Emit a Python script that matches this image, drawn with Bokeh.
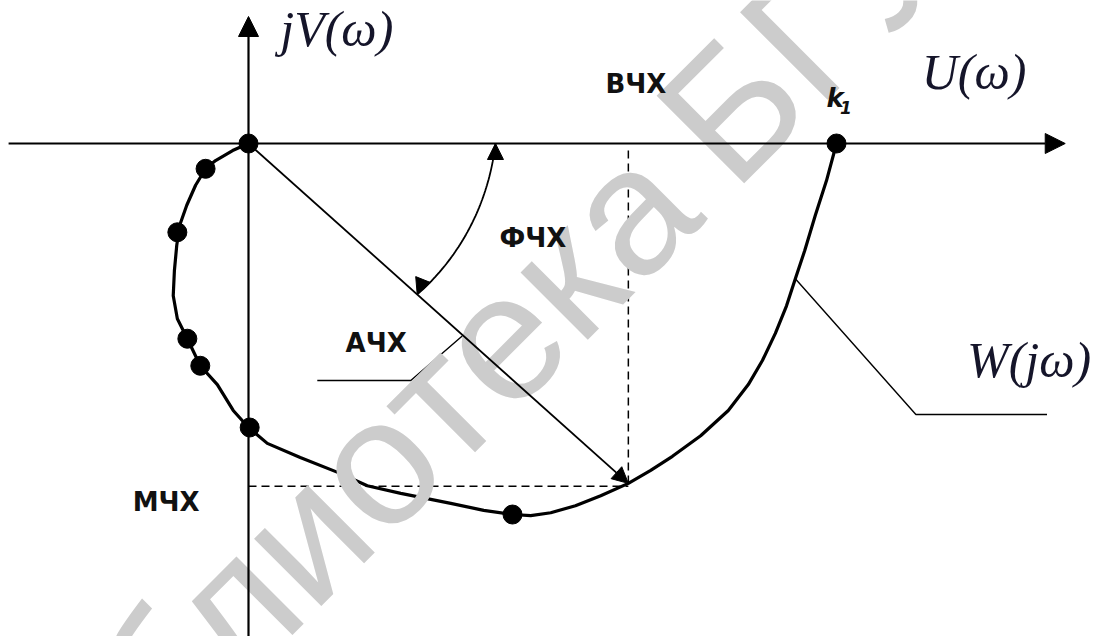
import numpy as np
from bokeh.plotting import figure
from bokeh.models import Range1d, Arrow, NormalHead, Label
from bokeh.embed import file_html
from bokeh.resources import INLINE

# Hodograph W(jω) in the (U, V) plane, normalised so that W(0) = k1 = 1
curve_u = [0.000, -0.027, -0.056, -0.073, -0.090, -0.105, -0.117, -0.122, -0.126,
           -0.128, -0.121, -0.104, -0.082, -0.053, -0.026, 0.000, 0.032, 0.088,
           0.156, 0.202, 0.259, 0.344, 0.400, 0.449, 0.480, 0.514, 0.556, 0.599,
           0.646, 0.684, 0.721, 0.769, 0.816, 0.850, 0.874, 0.896, 0.915, 0.930,
           0.946, 0.964, 0.983, 1.000]
curve_v = [0.000, -0.012, -0.029, -0.043, -0.071, -0.105, -0.139, -0.173, -0.216,
           -0.259, -0.298, -0.332, -0.378, -0.410, -0.454, -0.483, -0.510, -0.534,
           -0.561, -0.582, -0.595, -0.612, -0.624, -0.631, -0.633, -0.628, -0.616,
           -0.599, -0.578, -0.556, -0.532, -0.497, -0.454, -0.410, -0.369, -0.323,
           -0.276, -0.230, -0.182, -0.122, -0.063, 0.000]

# frequency marks placed along the hodograph
mark_u = [0.000, -0.073, -0.121, -0.104, -0.082, 0.002, 0.449, 1.000]
mark_v = [0.000, -0.043, -0.151, -0.332, -0.378, -0.483, -0.631, 0.000]

# point of the hodograph used to show the amplitude/phase/real/imaginary parts
P_U, P_V = 0.646, -0.578

# phase arc radius at the real axis and at the amplitude vector
ARC_R0, ARC_R1 = 0.420, 0.385

# leader lines of the АЧХ and W(jω) captions
achx_u = [0.364, 0.276, 0.117]
achx_v = [-0.327, -0.403, -0.403]
w_u = [0.930, 1.135, 1.358]
w_v = [-0.230, -0.461, -0.461]

# coordinate axes extents
U_MIN, U_MAX = -0.408, 1.389
V_MIN, V_MAX = -0.840, 0.216

PX = 588.0  # pixels per unit
W_PX, H_PX = 1093, 636
ORIGIN_PX = (248, 143)

p = figure(width=W_PX, height=H_PX, output_backend="svg", toolbar_location=None,
           x_axis_type=None, y_axis_type=None, min_border=0,
           x_range=Range1d(-ORIGIN_PX[0] / PX, (W_PX - ORIGIN_PX[0]) / PX),
           y_range=Range1d(-(H_PX - ORIGIN_PX[1]) / PX, ORIGIN_PX[1] / PX))
p.grid.visible = False
p.outline_line_color = None
p.background_fill_color = "white"
p.border_fill_color = "white"

# library watermark
WM_COLOR = "#cccccc"
WM_SIZE = "180px"
p.add_layout(Label(x=0.707, y=-0.053, text="Библиотека", angle=np.pi / 4,
                   text_align="right", text_baseline="alphabetic",
                   text_font="Liberation Sans", text_font_size=WM_SIZE,
                   text_color=WM_COLOR))
p.add_layout(Label(x=0.750, y=-0.0105, text="БГУИР", angle=np.pi / 4,
                   text_align="left", text_baseline="alphabetic",
                   text_font="Liberation Sans", text_font_size=WM_SIZE,
                   text_color=WM_COLOR))

HEAD = dict(fill_color="black", line_color="black")

# axes with arrow heads
p.add_layout(Arrow(x_start=U_MIN, y_start=0, x_end=U_MAX, y_end=0, line_width=2.2,
                   end=NormalHead(size=20, **HEAD)))
p.add_layout(Arrow(x_start=0, y_start=V_MIN, x_end=0, y_end=V_MAX, line_width=2.2,
                   end=NormalHead(size=20, **HEAD)))

# projections of the point onto the axes
p.line([P_U, P_U], [-0.012, P_V], line_color="black", line_width=1.5, line_dash="8 5")
p.line([0, P_U], [P_V - 0.005, P_V - 0.005], line_color="black", line_width=1.5,
       line_dash="8 5")

# amplitude vector
p.add_layout(Arrow(x_start=0, y_start=0, x_end=P_U, y_end=P_V, line_width=1.8,
                   end=NormalHead(size=16, **HEAD)))

# phase arc between the real axis and the amplitude vector
phi = np.arctan2(P_V, P_U)
t = np.linspace(0.0, 1.0, 60)
theta = phi * t
r = ARC_R0 + (ARC_R1 - ARC_R0) * t
p.line(r * np.cos(theta), r * np.sin(theta), line_color="black", line_width=1.8)
eps = 0.03
p.add_layout(Arrow(x_start=ARC_R0, y_start=-eps, x_end=ARC_R0, y_end=0.0,
                   line_alpha=0, end=NormalHead(size=16, **HEAD)))
tip_u, tip_v = ARC_R1 * np.cos(phi), ARC_R1 * np.sin(phi)
back = phi + np.pi / 2 + 0.35
p.add_layout(Arrow(x_start=tip_u + eps * np.cos(back), y_start=tip_v + eps * np.sin(back),
                   x_end=tip_u, y_end=tip_v, line_alpha=0,
                   end=NormalHead(size=16, **HEAD)))

# leader lines
p.line(achx_u, achx_v, line_color="black", line_width=1.4)
p.line(w_u, w_v, line_color="black", line_width=1.4)

# hodograph and its marks
p.line(curve_u, curve_v, line_color="black", line_width=3.2, line_join="round")
p.scatter(mark_u, mark_v, size=19, color="black")

# captions
MATH = dict(text_font="Liberation Serif", text_font_style="italic",
            text_font_size="50px", text_color="#15152a", text_baseline="alphabetic")
p.add_layout(Label(x=0.054, y=0.195, text="jV(ω)", **MATH))
p.add_layout(Label(x=1.145, y=0.122, text="U(ω)", **MATH))
p.add_layout(Label(x=1.222, y=-0.368, text="W(jω)", **MATH))

CAP = dict(text_font="DejaVu Sans", text_font_style="bold", text_font_size="26px",
           text_color="#111111", text_baseline="alphabetic")
p.add_layout(Label(x=0.607, y=0.102, text="ВЧХ", **CAP))
p.add_layout(Label(x=0.427, y=-0.160, text="ФЧХ", **CAP))
p.add_layout(Label(x=0.165, y=-0.340, text="АЧХ", **CAP))
p.add_layout(Label(x=-0.197, y=-0.610, text="МЧХ", **CAP))
p.add_layout(Label(x=0.983, y=0.078, text="k", text_font="DejaVu Sans",
                   text_font_style="bold italic", text_font_size="26px",
                   text_color="#111111", text_baseline="alphabetic"))
p.add_layout(Label(x=1.006, y=0.062, text="1", text_font="DejaVu Sans",
                   text_font_style="bold italic", text_font_size="17px",
                   text_color="#111111", text_baseline="alphabetic"))

open("out.html", "w").write(file_html(p, INLINE))
